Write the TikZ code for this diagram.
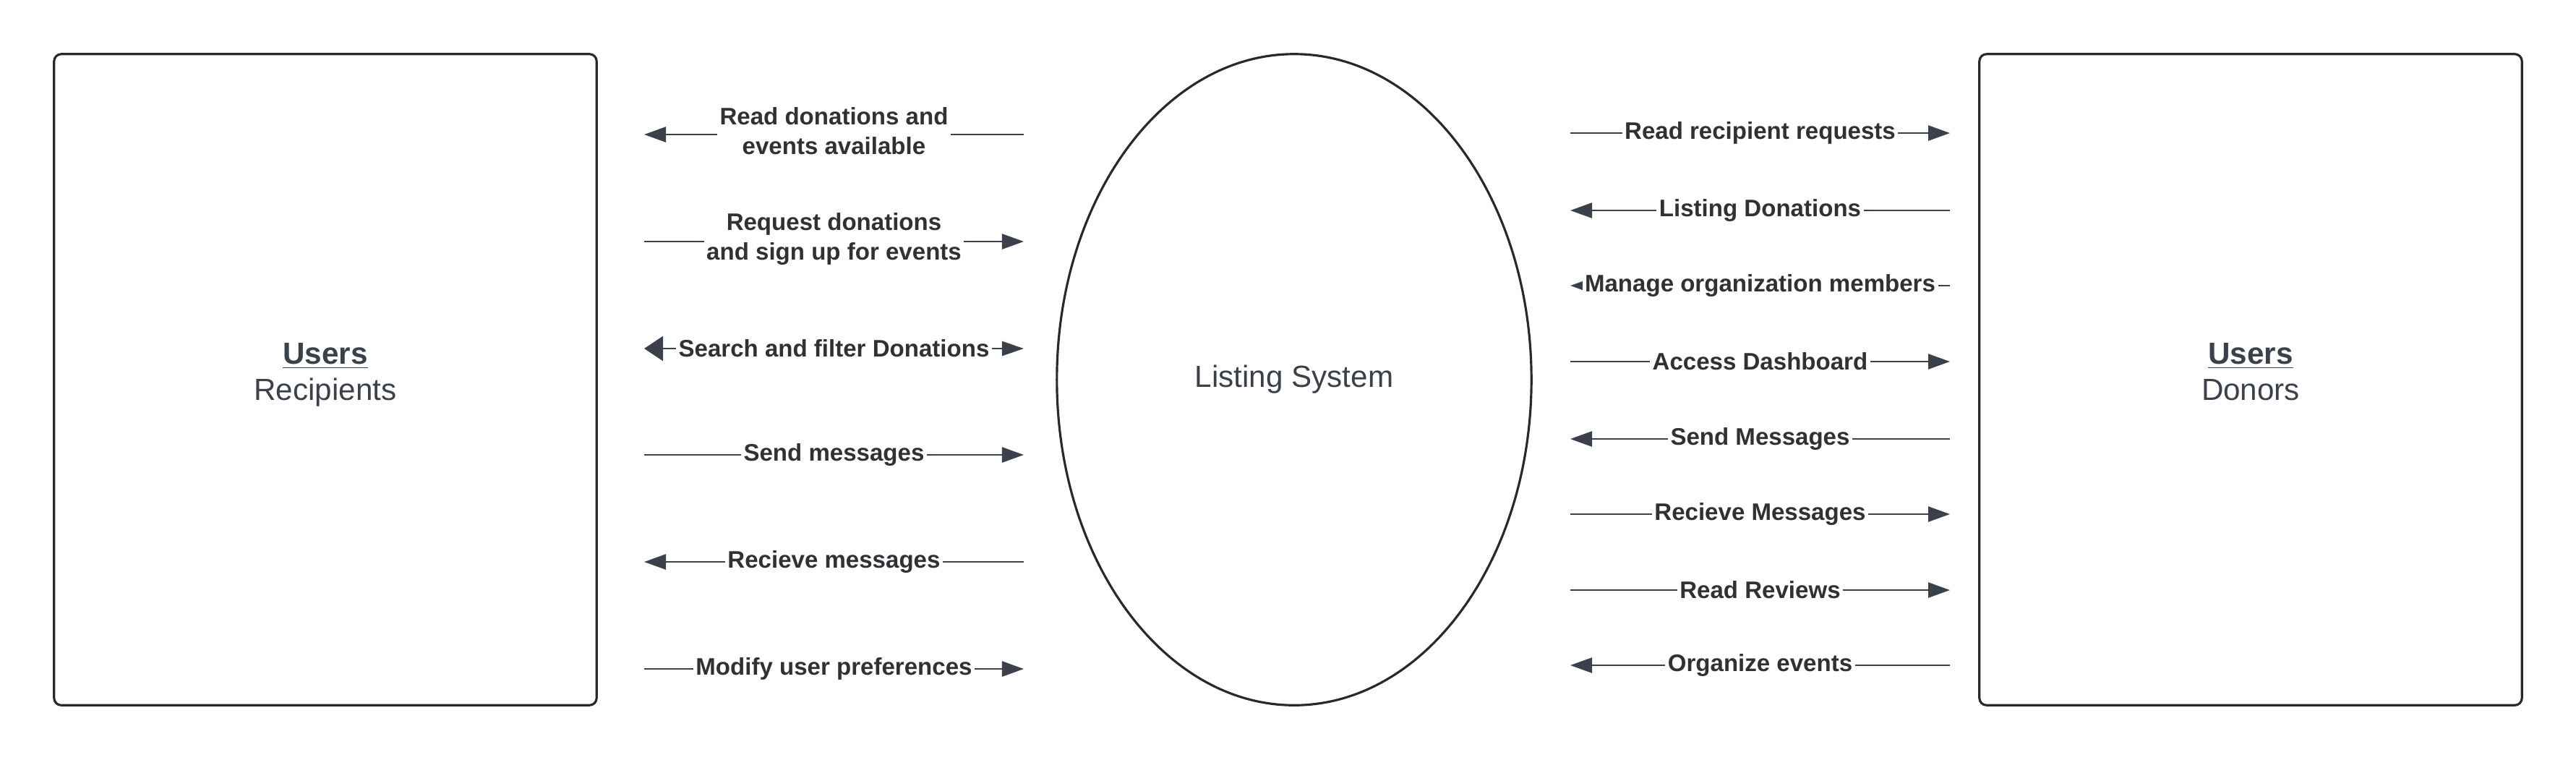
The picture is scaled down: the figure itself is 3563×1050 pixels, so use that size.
\documentclass[tikz,border=0pt]{standalone}
\usepackage{fontspec}
\setmainfont{Liberation Sans}
\usepackage{xcolor}
\usepackage{tikz}
\usetikzlibrary{arrows.meta,positioning,shapes.geometric}
\definecolor{ink}{HTML}{3A414A}
\definecolor{inkD}{HTML}{262A30}
\definecolor{txt}{HTML}{2F3134}

\begin{document}
\begin{tikzpicture}[x=0.01cm, y=-0.01cm, >={Triangle[length=3mm,width=2.1mm]},
  actor/.style={draw=inkD, line width=0.9pt, rounded corners=1mm, minimum width=7.5cm, minimum height=9cm, align=center, text=ink, text depth=6.4pt, font=\fontsize{12}{14.2}\selectfont},
  proc/.style={ellipse, draw=inkD, line width=0.9pt, minimum width=6.56cm, minimum height=9cm, text=ink, font=\fontsize{12}{14.2}\selectfont},
  flow/.style={draw=ink, line width=0.7pt},
  lbl/.style={fill=white, inner sep=1pt, text=txt, align=center, font=\bfseries\fontsize{9.4}{11.6}\selectfont}]
\useasboundingbox (0,0) rectangle (3563,1050);

\node[actor] (recip) at (450,525) {\textbf{\underline{Users}}\\ Recipients};
\node[proc] (sys) at (1790,525) {Listing System};
\node[actor] (donor) at (3113,525) {\textbf{\underline{Users}}\\ Donors};

% recipients <-> system
\coordinate (r1a) at (891,186); \coordinate (r1b) at (1416,186);
\draw[flow,<-] (r1a) -- node[lbl, yshift=0.45mm] {Read donations and\\ events available} (r1b);
\coordinate (r2a) at (891,334); \coordinate (r2b) at (1416,334);
\draw[flow,->] (r2a) -- node[lbl, yshift=0.35mm] {Request donations\\ and sign up for events} (r2b);
\coordinate (r3a) at (891,482); \coordinate (r3b) at (1416,482);
\draw[flow,{Triangle[length=2.6mm,width=3.4mm]}-{Triangle[length=3mm,width=2mm]}] (r3a) -- node[lbl] {Search and filter Donations} (r3b);
\coordinate (r4a) at (891,629); \coordinate (r4b) at (1416,629);
\draw[flow,->] (r4a) -- node[lbl] {Send messages} (r4b);
\coordinate (r5a) at (891,777); \coordinate (r5b) at (1416,777);
\draw[flow,<-] (r5a) -- node[lbl] {Recieve messages} (r5b);
\coordinate (r6a) at (891,925); \coordinate (r6b) at (1416,925);
\draw[flow,->] (r6a) -- node[lbl] {Modify user preferences} (r6b);

% system <-> donors
\coordinate (d1a) at (2172,184); \coordinate (d1b) at (2697,184);
\draw[flow,->] (d1a) -- node[lbl] {Read recipient requests} (d1b);
\coordinate (d2a) at (2172,291); \coordinate (d2b) at (2697,291);
\draw[flow,<-] (d2a) -- node[lbl] {Listing Donations} (d2b);
\coordinate (d3a) at (2172,395); \coordinate (d3b) at (2697,395);
\draw[flow,{Triangle[length=1.9mm,width=1.3mm]}-] (d3a) -- node[lbl] {Manage organization members} (d3b);
\coordinate (d4a) at (2172,500); \coordinate (d4b) at (2697,500);
\draw[flow,->] (d4a) -- node[lbl] {Access Dashboard} (d4b);
\coordinate (d5a) at (2172,607); \coordinate (d5b) at (2697,607);
\draw[flow,<-] (d5a) -- node[lbl] {Send Messages} (d5b);
\coordinate (d6a) at (2172,711); \coordinate (d6b) at (2697,711);
\draw[flow,->] (d6a) -- node[lbl] {Recieve Messages} (d6b);
\coordinate (d7a) at (2172,816); \coordinate (d7b) at (2697,816);
\draw[flow,->] (d7a) -- node[lbl] {Read Reviews} (d7b);
\coordinate (d8a) at (2172,920); \coordinate (d8b) at (2697,920);
\draw[flow,<-] (d8a) -- node[lbl] {Organize events} (d8b);
\end{tikzpicture}
\end{document}
